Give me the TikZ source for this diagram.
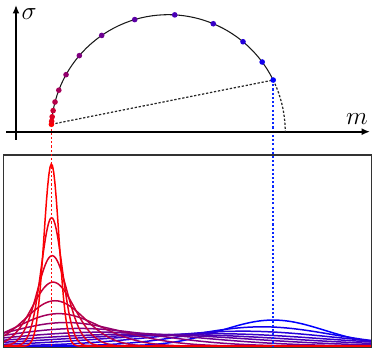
\documentclass[tikz,border=0pt]{standalone}
\usepackage{tikz}
\usetikzlibrary{arrows.meta,positioning,calc}
\definecolor{dropred}{RGB}{255,10,10}
\definecolor{dropblue}{RGB}{10,40,255}

\begin{document}
\begin{tikzpicture}[
  x=0.02cm, y=0.02cm,
  axis/.style={line width=1pt, -{Latex[length=4.8pt,width=4pt]}},
  geo/.style={line width=0.6pt, black!90},
  chord/.style={line width=0.7pt, black!85, dash pattern=on 1.3pt off 1pt},
  drop/.style={line width=0.8pt, dash pattern=on 1.2pt off 1.2pt},
  gdot/.style={circle, fill=#1, inner sep=0pt, minimum size=3.2pt},
  curve/.style={line width=0.85pt},
  lbl/.style={font=\fontsize{14}{16}\selectfont, inner sep=0pt}]
\useasboundingbox (-16,-219.3) rectangle (358,131.7);
% geodesic: half circle, points evenly spaced in arc length
\pgfmathsetmacro{\angA}{2*atan(exp(3.45))}
\pgfmathsetmacro{\angB}{2*atan(exp(3.45-0.3506*14))}
\foreach \i in {0,...,14}{
  \pgfmathsetmacro{\ang}{2*atan(exp(3.45-0.3506*\i))}
  \coordinate (p\i) at ({152.2+117*cos(\ang)},{117*sin(\ang)});
}
\coordinate (bl) at (-12.7,-215.5);
\coordinate (tr) at (355.3,-23.3);
% densities
\begin{scope}
  \clip (bl) rectangle (tr);
  \foreach \i in {14,...,0}{
    \pgfmathsetmacro{\ang}{2*atan(exp(3.45-0.3506*\i))}
    \pgfmathsetmacro{\mm}{152.2+117*cos(\ang)}
    \pgfmathsetmacro{\sg}{117*sin(\ang)}
    \pgfmathsetmacro{\pr}{100-100*\i/14}
    \draw[curve, red!\pr!blue] plot[domain=-12.7:355.3, samples=300]
      (\x, {-214.5+1350/\sg*exp(-min(0.5*((\x-\mm)/\sg)*((\x-\mm)/\sg),12))});
  }
\end{scope}
\draw[black!80, line width=0.7pt] (bl) rectangle (tr);
\draw[drop, draw=dropblue] (p14) -- (p14 |- bl);
\foreach \k in {0,...,52}
  \fill[dropred] ($(p0)+(-0.8,-4.22*\k)$) rectangle ++(1.6,-2.2);
% axes
\coordinate (xs) at (-10,0);
\coordinate (xe) at (354,0);
\coordinate (ys) at (0,-8.3);
\coordinate (ye) at (0,126.7);
\draw[axis] (xs) -- (xe);
\draw[axis] (ys) -- (ye);
\node[lbl] (sig) at (13,117.4) {$\sigma$};
\node[lbl] (mlab) at (341,12.7) {$m$};
% arc, chord and points
\draw[geo] (p0) arc[start angle=\angA, end angle=\angB, radius=117];
\draw[chord] (p14) arc[start angle=\angB, end angle=0, radius=117];
\draw[chord] (p0) -- (p14);
\foreach \i in {0,...,14}{
  \pgfmathsetmacro{\pr}{100-100*\i/14}
  \node[gdot=red!\pr!blue] (d\i) at (p\i) {};
}
\end{tikzpicture}
\end{document}
